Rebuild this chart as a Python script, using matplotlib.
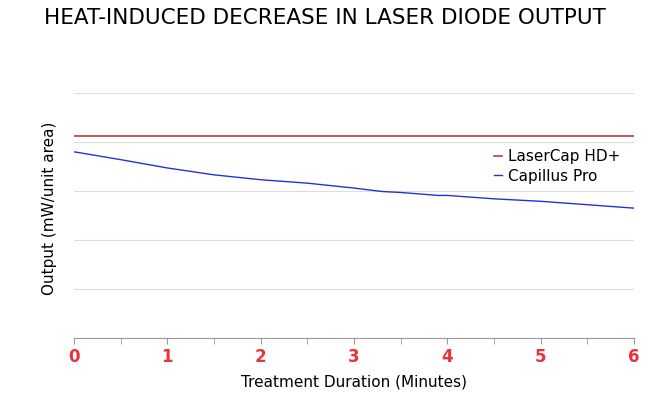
import matplotlib
matplotlib.use("Agg")
import matplotlib.pyplot as plt

minutes = [0, 0.5, 1, 1.5, 2, 2.5, 3, 3.3, 3.5, 3.9, 4, 4.5, 5, 5.5, 6]
laser_cap = [4.12]*len(minutes)
capillus = [3.8, 3.64, 3.47, 3.33, 3.23, 3.16, 3.06, 2.99, 2.97, 2.91, 2.91, 2.84, 2.79, 2.72, 2.65]
grid_vals = [1, 2, 3, 4, 5]
xticks = [0, 1, 2, 3, 4, 5, 6]

fig = plt.figure(figsize=(6.5, 4.08), dpi=100)
ax = fig.add_axes([74/650, 1-338/408, 560/650, 260/408])
ax.set_xlim(0, 6)
ax.set_ylim(0, 260/49)
for g in grid_vals:
    ax.axhline(g, color="#dddddd", lw=0.8, zorder=0)
ax.plot(minutes, laser_cap, color="#c0393b", lw=1.2, label="LaserCap HD+")
ax.plot(minutes, capillus, color="#2233dd", lw=1.0, label="Capillus Pro")
for s in ["top", "right", "left"]:
    ax.spines[s].set_visible(False)
ax.spines["bottom"].set_color("#999999")
ax.set_yticks([])
ax.set_xticks(xticks)
ax.set_xticks([0.5, 1.5, 2.5, 3.5, 4.5, 5.5], minor=True)
ax.tick_params(axis="x", which="both", colors="#999999", length=4, labelcolor="#e8323c", labelsize=12)
for lbl in ax.get_xticklabels():
    lbl.set_fontweight("bold")
ax.set_xlabel("Treatment Duration (Minutes)", fontsize=11, labelpad=6)
ax.set_ylabel("Output (mW/unit area)", fontsize=11, labelpad=12)
ax.legend(loc="upper right", bbox_to_anchor=(1.0, 0.78), frameon=False, fontsize=11,
          handlelength=0.5, handletextpad=0.4, labelspacing=0.3)
fig.text(0.5, 0.955, "HEAT-INDUCED DECREASE IN LASER DIODE OUTPUT", ha="center", va="center", fontsize=15.5)
fig.savefig("out.png", dpi=100)
